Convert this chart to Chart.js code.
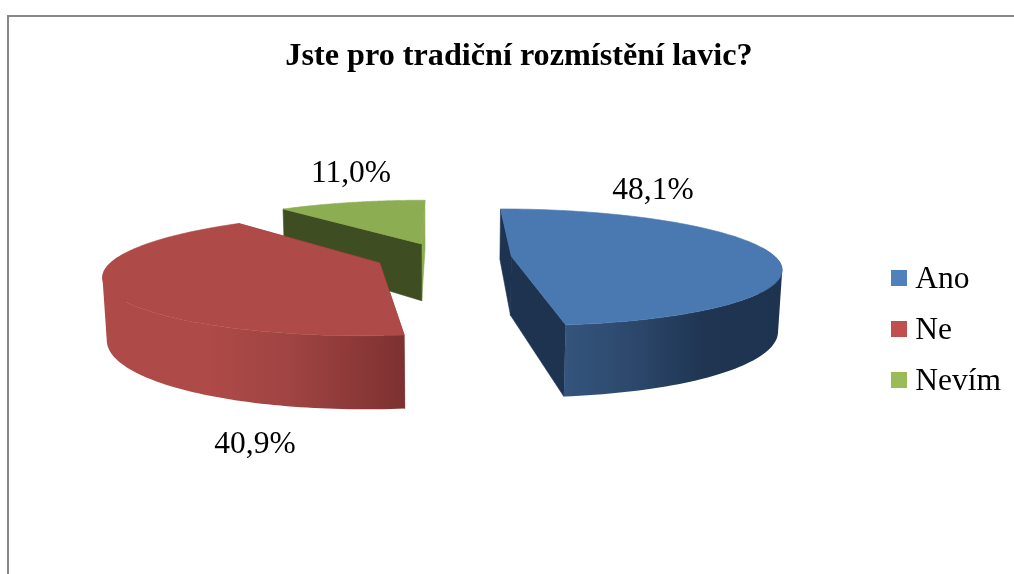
<!DOCTYPE html>
<html><head><meta charset="utf-8">
<style>html,body{margin:0;padding:0;background:#fff}#w{position:relative;width:1014px;height:574px}canvas{display:block}</style>
<script src="https://cdn.jsdelivr.net/npm/chart.js@4/dist/chart.umd.min.js"></script>
</head><body><div id="w"><canvas id="c" width="1014" height="574"></canvas></div>
<script>
const titleText = 'Jste pro tradiční rozmístění lavic?';
const categories = ['Ano', 'Ne', 'Nevím'];
const shares = [48.1, 40.9, 11.0];

const legendColors = ['#4f81bd', '#c0504d', '#9bbb59'];
const topColors = ['#4a78b0', '#ae4a47', '#8cad52'];
const wallColors = ['#1d3350', '#7d3130', '#3f4d22'];
const sideWallColors = ['#1d3350', '#7d3130', '#8cad52'];
const rimStops = [
  [[0, '#35557e'], [0.22, '#35557e'], [0.5, '#2b4669'], [0.72, '#1f3552'], [1, '#1e3350']],
  [[0, '#ae4a47'], [0.35, '#ae4a47'], [0.62, '#9f4442'], [0.84, '#8c3938'], [1, '#7d3130']],
  [[0, '#3f4d22'], [1, '#3f4d22']]
];
const labelCentres = [[653, 191], [255, 445], [351, 174]];

const FONT = '"Liberation Serif", "Times New Roman", serif';
const explode = 0.258, persp = 0.19, squash = 0.214, depth = 60, sink = 0.012;

function project(el, X, Y, Z) {
  const a = el.outerRadius, b = a * squash;
  const den = 1 - persp * Y + sink * Z;
  return [el.x + a * X / den, el.y + (b * Y + depth * Z) / den];
}
function sliceGeometry(el) {
  const t0 = el.startAngle + Math.PI / 2, t1 = el.endAngle + Math.PI / 2, mid = (t0 + t1) / 2;
  const ox = explode * Math.sin(mid), oy = -explode * Math.cos(mid);
  const rim = [], normalY = [];
  const n = 120;
  for (let i = 0; i <= n; i++) {
    const t = t0 + (t1 - t0) * i / n;
    rim.push([ox + Math.sin(t), oy - Math.cos(t)]);
    normalY.push(-Math.cos(t));
  }
  return {ox, oy, rim, mid, normalY};
}
function poly(ctx, pts, fill) {
  ctx.beginPath();
  pts.forEach((p, i) => i ? ctx.lineTo(p[0], p[1]) : ctx.moveTo(p[0], p[1]));
  ctx.closePath();
  ctx.fillStyle = fill;
  ctx.fill();
  ctx.strokeStyle = fill;
  ctx.lineWidth = 0.6;
  ctx.stroke();
}
const pie3d = {
  id: 'pie3d',
  afterLayout(chart) {
    const lg = chart.legend, w = lg.width, h = lg.height;
    lg.left = 879; lg.right = 879 + w; lg.top = 244.75; lg.bottom = 244.75 + h;
    const tb = chart.titleBlock;
    tb.left += 9.5; tb.right += 9.5;
  },
  beforeDraw(chart) {
    const ctx = chart.ctx;
    ctx.save();
    ctx.fillStyle = '#878787';
    ctx.fillRect(7, 15, 1007, 2);
    ctx.fillRect(7, 15, 2, 559);
    ctx.restore();
  },
  beforeDatasetsDraw(chart) {
    const ctx = chart.ctx, arcs = chart.getDatasetMeta(0).data;
    const order = arcs.map((el, i) => ({el, i, g: sliceGeometry(el)}))
      .sort((p, q) => Math.cos(q.g.mid) - Math.cos(p.g.mid));
    ctx.save();
    for (const {el, i, g} of order) {
      const topRim = g.rim.map(p => project(el, p[0], p[1], 0));
      const lowRim = g.rim.map(p => project(el, p[0], p[1], 1));
      const apexT = project(el, g.ox, g.oy, 0), apexB = project(el, g.ox, g.oy, 1);
      const last = g.rim.length - 1;
      poly(ctx, [apexT, topRim[last], lowRim[last], apexB], i === 2 ? sideWallColors[i] : wallColors[i]);
      poly(ctx, [apexT, topRim[0], lowRim[0], apexB], wallColors[i]);
      const xs = topRim.map(p => p[0]);
      const grad = ctx.createLinearGradient(Math.min(...xs), 0, Math.max(...xs), 0);
      rimStops[i].forEach(s => grad.addColorStop(s[0], s[1]));
      ctx.beginPath();
      for (let k = 0; k < last; k++) {
        if (g.normalY[k] > -0.15 || g.normalY[k + 1] > -0.15) {
          const q = [topRim[k], topRim[k + 1], lowRim[k + 1], lowRim[k]];
          const area = (q[1][0] - q[0][0]) * (q[2][1] - q[0][1]) - (q[1][1] - q[0][1]) * (q[2][0] - q[0][0]);
          if (area < 0) q.reverse();
          q.forEach((p, m) => m ? ctx.lineTo(p[0], p[1]) : ctx.moveTo(p[0], p[1]));
          ctx.closePath();
        }
      }
      ctx.fillStyle = grad;
      ctx.fill('nonzero');
      poly(ctx, [apexT].concat(topRim), topColors[i]);
    }
    ctx.restore();
    return false;
  },
  afterDraw(chart) {
    const ctx = chart.ctx;
    ctx.save();
    ctx.font = '31.5px ' + FONT;
    ctx.fillStyle = '#000';
    ctx.textAlign = 'center';
    ctx.textBaseline = 'middle';
    shares.forEach((v, i) => {
      ctx.fillText(v.toFixed(1).replace('.', ',') + '%', labelCentres[i][0], labelCentres[i][1]);
    });
    ctx.restore();
  }
};
function swatch(color) {
  const s = document.createElement('canvas');
  s.width = 16; s.height = 20;
  const g = s.getContext('2d');
  g.fillStyle = color; g.fillRect(0, 0, 16, 16);
  return s;
}
const swatches = legendColors.map(swatch);
new Chart(document.getElementById('c'), {
  type: 'pie',
  data: {
    labels: categories,
    datasets: [{data: shares, backgroundColor: legendColors, borderWidth: 0, radius: 264, hoverOffset: 0}]
  },
  options: {
    responsive: false,
    animation: false,
    rotation: 0,
    layout: {padding: {left: 5, right: 0, top: 0, bottom: 135.6}},
    plugins: {
      tooltip: {enabled: false},
      title: {
        display: true, text: titleText, color: '#000',
        font: {family: FONT, size: 32.2, weight: 'bold', lineHeight: 1.2},
        padding: {top: 37, bottom: 0}
      },
      legend: {
        position: 'right', align: 'start',
        labels: {
          color: '#000',
          font: {family: FONT, size: 31.5, lineHeight: 1},
          usePointStyle: true, pointStyleWidth: 1, boxHeight: 16, padding: 19.5,
          generateLabels(chart) {
            return Chart.overrides.pie.plugins.legend.labels.generateLabels(chart)
              .map((it, i) => Object.assign(it, {pointStyle: swatches[i]}));
          }
        }
      }
    }
  },
  plugins: [pie3d]
});
</script></body></html>
